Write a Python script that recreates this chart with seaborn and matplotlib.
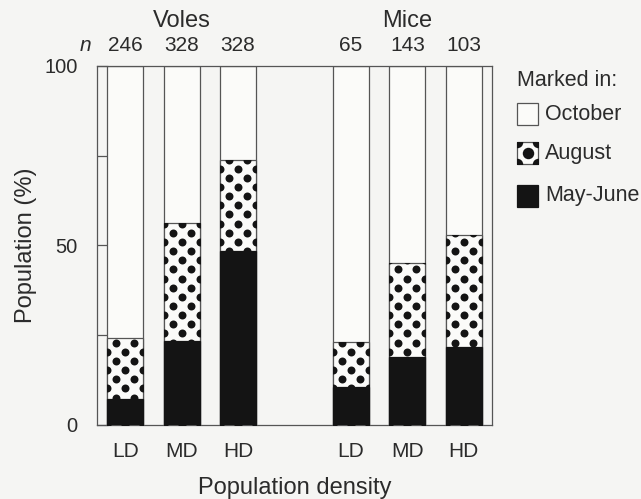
import numpy as np
import pandas as pd
import matplotlib
matplotlib.use("Agg")
import matplotlib.pyplot as plt
import seaborn as sns
from matplotlib.patches import Rectangle
from matplotlib.collections import PathCollection
from matplotlib.path import Path
from matplotlib.transforms import IdentityTransform

# Percent of the population by month of first marking
species = ["Voles", "Voles", "Voles", "Mice", "Mice", "Mice"]
density = ["LD", "MD", "HD", "LD", "MD", "HD"]
sample_n = [246, 328, 328, 65, 143, 103]
may_june = [7.2, 23.4, 48.6, 10.6, 19.0, 21.8]
august = [17.0, 32.8, 25.2, 12.5, 26.1, 31.0]
slot = [0, 1, 2, 4, 5, 6]          # gap between the two species groups

df = pd.DataFrame({"species": species, "density": density, "n": sample_n,
                   "may_june": may_june, "august": august, "slot": slot})
df["to_august"] = df["may_june"] + df["august"]
df["october"] = 100 - df["to_august"]
df["total"] = df["to_august"] + df["october"]

BG = "#f5f5f3"
FILL = "#fbfbf9"
INK = "#2b2b2b"
EDGE = "#555555"
BLACK = "#141414"

sns.set_theme(style="white")
plt.rcParams["font.family"] = ["Liberation Sans", "DejaVu Sans"]
plt.rcParams["text.color"] = INK

W, H = 641, 499
fig = plt.figure(figsize=(W / 100, H / 100), dpi=100, facecolor=BG)
ax = fig.add_axes([97 / W, 1 - 425 / H, (492 - 97) / W, (425 - 66) / H])
ax.set_facecolor(BG)

bw = 0.64
common = dict(x="slot", native_scale=True, width=bw, errorbar=None,
              edgecolor=EDGE, linewidth=0.9, ax=ax)

# full column (October remainder on top)
sns.barplot(data=df, y="total", color=FILL, zorder=1, **common)
# May-June + August
n_before = len(ax.patches)
sns.barplot(data=df, y="to_august", color=FILL, zorder=2, **common)
aug_bars = ax.patches[n_before:]

# dotted screen inside the August part of each column
dx = bw / 4
dy = 2.55
for bar in aug_bars:
    x0 = bar.get_x()
    top = bar.get_height()
    xs, ys = [], []
    for j in range(int(top / dy) + 2):
        for k in range(5):
            if (j + k) % 2 == 0:
                xs.append(x0 + k * dx)
                ys.append(j * dy)
    sc = ax.scatter(xs, ys, s=33, color=BLACK, linewidths=0, zorder=3)
    sc.set_clip_path(bar)

# May-June part
sns.barplot(data=df, y="may_june", color=BLACK, zorder=4,
            **{**common, "edgecolor": BLACK})

ax.set_xlim(-0.5, 6.5)
ax.set_ylim(0, 100)
ax.set_xticks(slot)
ax.set_xticklabels(density)
ax.set_yticks([0, 50, 100])
ax.set_yticks([25, 75], minor=True)
ax.tick_params(axis="y", which="both", direction="in", length=8, width=0.9,
               color=EDGE, labelsize=14.5, pad=14, left=True, labelcolor=INK)
ax.tick_params(axis="x", length=0, labelsize=15, pad=12, labelcolor=INK)
for s in ax.spines.values():
    s.set_visible(True)
    s.set_color(EDGE)
    s.set_linewidth(0.9)

ax.set_xlabel("Population density", fontsize=17, color=INK, labelpad=12)
ax.set_ylabel("Population (%)", fontsize=17, color=INK, labelpad=5)

# group titles and sample sizes
tr = ax.get_xaxis_transform()
for name, grp in df.groupby("species", sort=False):
    ax.text(grp["slot"].mean(), 1.125, name, transform=tr, ha="center",
            va="center", fontsize=17, color=INK)
for x, n in zip(df["slot"], df["n"]):
    ax.text(x, 1.058, str(n), transform=tr, ha="center", va="center",
            fontsize=15, color=INK)
ax.text(-0.7, 1.058, "n", transform=tr, ha="center", va="center",
        fontsize=15, style="italic", color=INK)

# legend
fig.text(517 / W, 1 - 81 / H, "Marked in:", ha="left", va="center",
         fontsize=15.5, color=INK)
keys = [("October", 114, "plain"), ("August", 153, "dots"),
        ("May-June", 196, "solid")]
for label, yc, kind in keys:
    bx, by = 517 / W, 1 - (yc + 11) / H
    bwf, bhf = 21 / W, 22 / H
    rect = Rectangle((bx, by), bwf, bhf, transform=fig.transFigure,
                     facecolor=BLACK if kind == "solid" else FILL,
                     edgecolor=BLACK if kind == "solid" else EDGE,
                     linewidth=0.9)
    fig.add_artist(rect)
    if kind == "dots":
        fx = (0.0, 1.0, 0.5, 0.0, 1.0)
        fy = (1.0, 1.0, 0.5, 0.0, 0.0)
        offs = np.column_stack([[bx + bwf * f for f in fx],
                                [by + bhf * f for f in fy]])
        pts = PathCollection([Path.unit_circle()], sizes=[17],
                             offsets=offs, offset_transform=fig.transFigure,
                             transform=IdentityTransform(),
                             facecolors=BLACK, linewidths=0)
        fig.add_artist(pts)
        pts.set_clip_path(rect)
    fig.text(545 / W, 1 - yc / H, label, ha="left", va="center",
             fontsize=15.5, color=INK)

fig.savefig("out.png", dpi=100, facecolor=BG)
